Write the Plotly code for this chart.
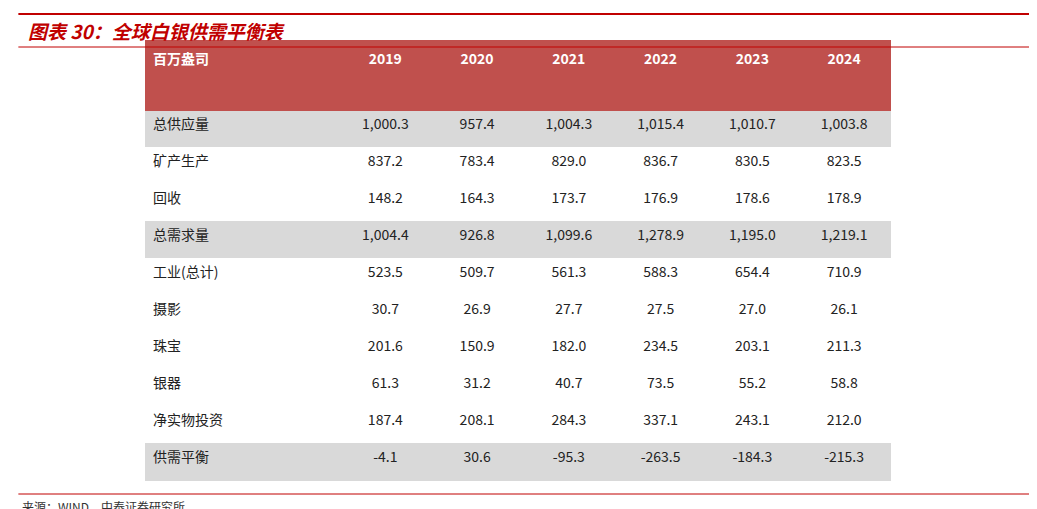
import plotly.graph_objects as go

row_labels = ["总供应量", "矿产生产", "回收", "总需求量", "工业(总计)", "摄影",
              "珠宝", "银器", "净实物投资", "供需平衡"]
years = ["2019", "2020", "2021", "2022", "2023", "2024"]
values = {
    "2019": ["1,000.3", "837.2", "148.2", "1,004.4", "523.5", "30.7", "201.6", "61.3", "187.4", "-4.1"],
    "2020": ["957.4", "783.4", "164.3", "926.8", "509.7", "26.9", "150.9", "31.2", "208.1", "30.6"],
    "2021": ["1,004.3", "829.0", "173.7", "1,099.6", "561.3", "27.7", "182.0", "40.7", "284.3", "-95.3"],
    "2022": ["1,015.4", "836.7", "176.9", "1,278.9", "588.3", "27.5", "234.5", "73.5", "337.1", "-263.5"],
    "2023": ["1,010.7", "830.5", "178.6", "1,195.0", "654.4", "27.0", "203.1", "55.2", "243.1", "-184.3"],
    "2024": ["1,003.8", "823.5", "178.9", "1,219.1", "710.9", "26.1", "211.3", "58.8", "212.0", "-215.3"],
}
gray_rows = {"总供应量", "总需求量", "供需平衡"}

W, H = 1037, 509
red = "#C0504D"
fills = ["#D9D9D9" if r in gray_rows else "white" for r in row_labels]

fig = go.Figure(go.Table(
    domain=dict(x=[137 / W, 882 / W], y=[1 - 474 / H, 1 - 32 / H]),
    columnwidth=[195] + [92] * 6,
    header=dict(
        values=["<br><b>百万盎司</b>"] + [f"<br><b>{y}</b>" for y in years],
        fill_color=red, line_color=red, height=70,
        align=["left"] + ["center"] * 6,
        font=dict(color="white", size=14, family="Noto Sans CJK SC"),
    ),
    cells=dict(
        values=[row_labels] + [values[y] for y in years],
        fill_color=[fills] * 7, line_color=[fills] * 7, height=37,
        align=["left"] + ["center"] * 6,
        font=dict(color="#222222", size=14, family="Noto Sans CJK SC"),
    ),
))

fig.add_shape(type="line", xref="paper", yref="paper", x0=0.01, x1=1, y0=1 - 6 / H, y1=1 - 6 / H,
              line=dict(color="#C00000", width=2))
fig.add_shape(type="line", xref="paper", yref="paper", x0=0.01, x1=1, y0=1 - 39 / H, y1=1 - 39 / H,
              line=dict(color="#C00000", width=1))
fig.add_shape(type="line", xref="paper", yref="paper", x0=0.01, x1=1, y0=1 - 486 / H, y1=1 - 486 / H,
              line=dict(color="#C00000", width=1))
fig.add_annotation(text="<b><i>图表 30：全球白银供需平衡表</i></b>", xref="paper", yref="paper",
                   x=18 / W, y=1 - 22 / H, xanchor="left", yanchor="middle", showarrow=False,
                   font=dict(color="#C00000", size=19, family="Noto Sans CJK SC"))
fig.add_annotation(text="来源：WIND，中泰证券研究所", xref="paper", yref="paper",
                   x=12 / W, y=1 - 488 / H, xanchor="left", yanchor="top", showarrow=False,
                   font=dict(color="#333333", size=12, family="Noto Sans CJK SC"))

fig.update_layout(width=W, height=H, margin=dict(l=0, r=0, t=0, b=0),
                  paper_bgcolor="white", plot_bgcolor="white")
fig.write_html("out.html")
